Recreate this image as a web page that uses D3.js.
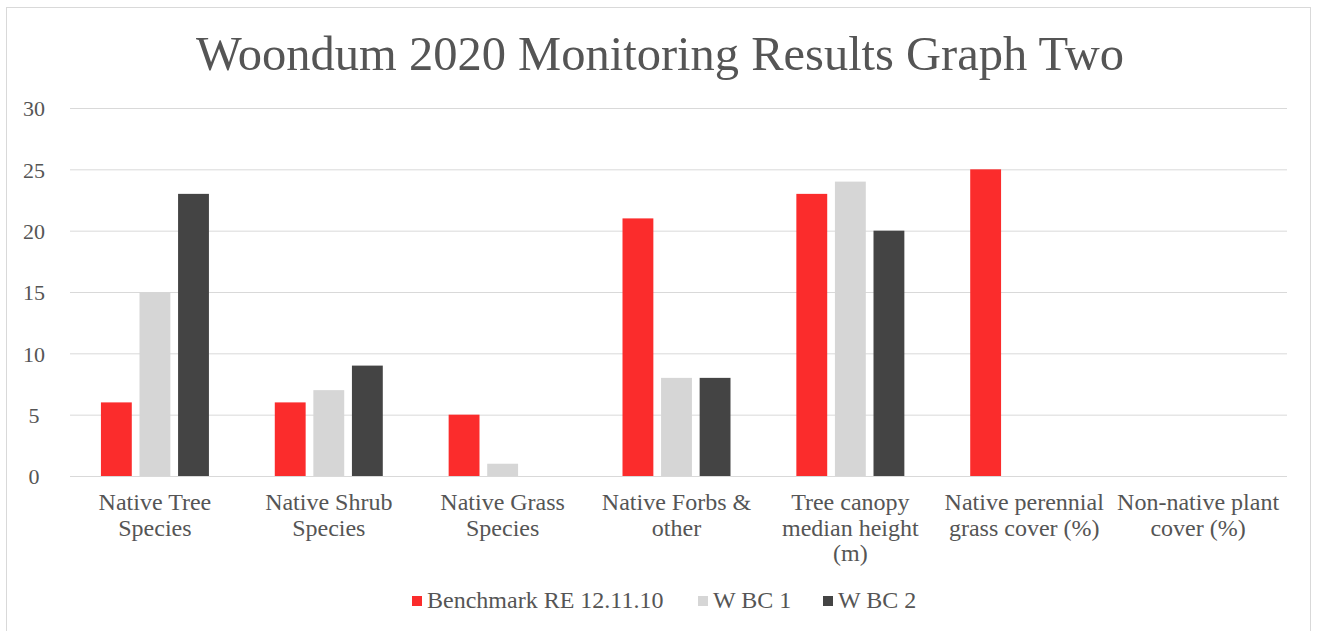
<!DOCTYPE html>
<html><head><meta charset="utf-8">
<script src="https://cdn.jsdelivr.net/npm/d3@7"></script>
<style>body{margin:0;background:#fff}svg{display:block}svg text{font-family:'Liberation Serif' !important}</style>
</head><body><svg id="c" width="1317" height="631" font-family="Liberation Serif"></svg>
<script>
const categories = [["Native Tree","Species"],["Native Shrub","Species"],["Native Grass","Species"],["Native Forbs &","other"],["Tree canopy","median height","(m)"],["Native perennial","grass cover (%)"],["Non-native plant","cover (%)"]];
const seriesNames = ["Benchmark RE 12.11.10","W BC 1","W BC 2"];
const benchmark = [6,6,5,21,23,25,0];
const wbc1 = [15,7,1,8,24,0,0];
const wbc2 = [23,9,0,8,20,0,0];
const yTicks = [0,5,10,15,20,25,30];
const colors = ["#fb2c2c","#d6d6d6","#444444"];
const values = [benchmark,wbc1,wbc2];

(function(){
const svg = d3.select("#c");
svg.append("rect").attr("x",6.5).attr("y",7.5).attr("width",1304).attr("height",640).attr("fill","#fff").attr("stroke","#d9d9d9");

const pl=70,pr=1287,pt=108,pb=476;
const y = d3.scaleLinear().domain([0,30]).range([pb,pt]);
const x0 = d3.scaleBand().domain(d3.range(categories.length)).range([pl-2,pr-2]).paddingInner(0).paddingOuter(0);
const x1 = d3.scaleBand().domain(d3.range(3)).range([0,108]).paddingInner(0.2);
const off = (x0.bandwidth()-108)/2;

svg.append("text").attr("x",660).attr("y",70).attr("text-anchor","middle").attr("font-family","Liberation Serif").attr("font-size",48.5).attr("fill","#555555").text("Woondum 2020 Monitoring Results Graph Two");

const yAxis = d3.axisLeft(y).tickValues(yTicks).tickSize(-(pr-pl)).tickPadding(12);
const ga = svg.append("g").attr("transform",`translate(${pl},0)`).call(yAxis);
ga.attr("font-family","Liberation Serif").attr("font-size",22);
ga.select(".domain").remove();
ga.selectAll(".tick line").attr("stroke","#d9d9d9");
ga.selectAll(".tick text").attr("fill","#555555").attr("x",-36).attr("dy","0.36em").attr("text-anchor","middle");

values.forEach((vals,s)=>{
  svg.append("g").selectAll("rect").data(vals).join("rect")
    .attr("x",(d,i)=>x0(i)+off+x1(s)).attr("width",x1.bandwidth())
    .attr("y",d=>y(d)).attr("height",d=>y(0)-y(d)).attr("fill",colors[s]);
});

const lab = svg.append("g").attr("font-family","Liberation Serif").attr("font-size",24);
categories.forEach((lines,i)=>{
  const t = lab.append("text").attr("text-anchor","middle").attr("fill","#555555");
  lines.forEach((l,j)=>t.append("tspan").attr("x",x0(i)+x0.bandwidth()/2).attr("y",510+j*25.5).text(l));
});

const legX=[412,698,823];
const lg = svg.append("g").attr("font-family","Liberation Serif").attr("font-size",24);
seriesNames.forEach((n,s)=>{
  lg.append("rect").attr("x",legX[s]).attr("y",596).attr("width",10).attr("height",10).attr("fill",colors[s]);
  lg.append("text").attr("x",legX[s]+15).attr("y",608).attr("fill","#555555").text(n);
});
})();
</script></body></html>
